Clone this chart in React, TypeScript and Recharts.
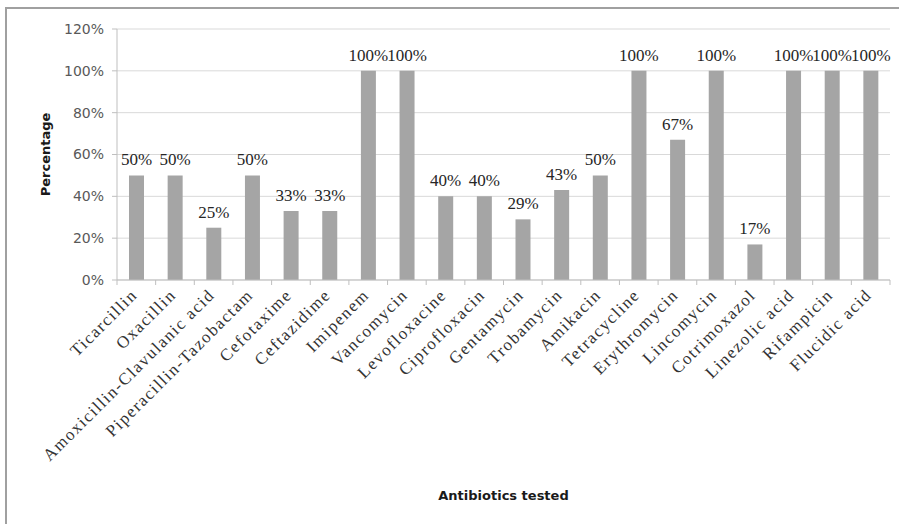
import { BarChart, Bar, XAxis, YAxis, CartesianGrid, LabelList, Label } from 'recharts';

const antibiotics = [
  'Ticarcillin',
  'Oxacillin',
  'Amoxicillin-Clavulanic acid',
  'Piperacillin-Tazobactam',
  'Cefotaxime',
  'Ceftazidime',
  'Imipenem',
  'Vancomycin',
  'Levofloxacine',
  'Ciprofloxacin',
  'Gentamycin',
  'Trobamycin',
  'Amikacin',
  'Tetracycline',
  'Erythromycin',
  'Lincomycin',
  'Cotrimoxazol',
  'Linezolic acid',
  'Rifampicin',
  'Flucidic acid',
];

const percentages = [50, 50, 25, 50, 33, 33, 100, 100, 40, 40, 29, 43, 50, 100, 67, 100, 17, 100, 100, 100];

const yTicks = [0, 20, 40, 60, 80, 100, 120];

const W = 899;
const H = 524;
const MARGIN = { top: 29, right: 9, left: 37, bottom: 20 };
const Y_AXIS_W = 80;
const STEP = (W - MARGIN.left - Y_AXIS_W - MARGIN.right) / antibiotics.length;

const data = antibiotics.map((name, i) => ({ name, value: percentages[i] }));

const serif = '"Liberation Serif", "Times New Roman", serif';
const sans = '"DejaVu Sans", Arial, sans-serif';

const AxisTick = ({ x, y, payload, index }: any) => {
  const last = index === antibiotics.length - 1;
  const tx = x + 2;
  const ty = y + 8;
  return (
    <g>
      <line x1={x - STEP / 2} x2={x - STEP / 2} y1={y - 8} y2={y - 3} stroke="#bfbfbf" />
      {last && <line x1={x + STEP / 2} x2={x + STEP / 2} y1={y - 8} y2={y - 3} stroke="#bfbfbf" />}
      <text
        x={tx}
        y={ty}
        transform={`rotate(-45, ${tx}, ${ty})`}
        textAnchor="end"
        fontFamily={serif}
        fontSize={17}
        letterSpacing={1.5}
        fill="#333"
      >
        {payload.value}
      </text>
    </g>
  );
};

export default function App() {
  return (
    <div style={{ position: 'absolute', left: 0, top: 0, width: W, height: H, overflow: 'hidden', background: '#fff' }}>
      <div
        style={{
          position: 'absolute',
          left: 5,
          top: 7,
          width: 920,
          height: 540,
          border: '2px solid #a0a0a0',
          boxSizing: 'border-box',
        }}
      />
      <BarChart width={W} height={H} data={data} margin={MARGIN} barSize={15}>
        <CartesianGrid vertical={false} stroke="#d9d9d9" />
        <XAxis
          dataKey="name"
          interval={0}
          height={224}
          tickLine={false}
          axisLine={{ stroke: '#bfbfbf' }}
          tick={<AxisTick />}
        >
          <Label
            value="Antibiotics tested"
            position="insideBottom"
            offset={4}
            style={{ fontFamily: sans, fontWeight: 'bold', fontSize: 13, fill: '#1a1a1a' }}
          />
        </XAxis>
        <YAxis
          width={Y_AXIS_W}
          domain={[0, 120]}
          ticks={yTicks}
          tickFormatter={(v: number) => `${v}%`}
          tickLine={{ stroke: '#bfbfbf' }}
          tickSize={5}
          tickMargin={8}
          axisLine={{ stroke: '#bfbfbf' }}
          tick={{ fontFamily: sans, fontSize: 14, fill: '#595959' }}
        >
          <Label
            value="Percentage"
            angle={-90}
            position="insideLeft"
            offset={8}
            style={{ fontFamily: sans, fontWeight: 'bold', fontSize: 13, fill: '#1a1a1a', textAnchor: 'middle' }}
          />
        </YAxis>
        <Bar dataKey="value" fill="#a5a5a5" isAnimationActive={false}>
          <LabelList
            dataKey="value"
            position="top"
            offset={10}
            formatter={(v: any) => `${v}%`}
            style={{ fontFamily: serif, fontSize: 17, fill: '#262626' }}
          />
        </Bar>
      </BarChart>
    </div>
  );
}
